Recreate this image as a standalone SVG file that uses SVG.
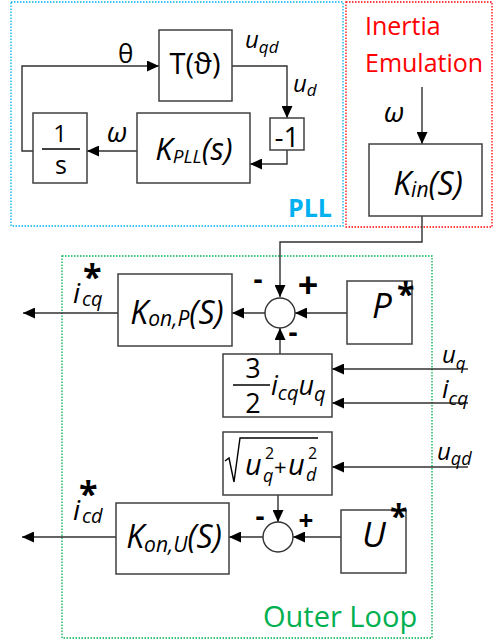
<svg xmlns="http://www.w3.org/2000/svg" width="493" height="644" viewBox="0 0 493 644">
<style>
.bx{fill:#fff;stroke:#404040;stroke-width:1.5}
.ln{fill:none;stroke:#303030;stroke-width:1.4}
.t{font-family:"Open Sans","Liberation Sans",sans-serif;fill:#000}
.it{font-family:"Open Sans","Liberation Sans",sans-serif;font-style:italic;fill:#000}
.st{font-family:"Open Sans","Liberation Sans",sans-serif;font-weight:bold;fill:#000}
.frame{fill:none;stroke-width:1.3;stroke-dasharray:1.5 1.5}
</style>
<defs>
<marker id="ah" markerUnits="userSpaceOnUse" markerWidth="12" markerHeight="11" refX="12" refY="5.5" orient="auto">
<path d="M0,0 L12,5.5 L0,11 z" fill="#000"/>
</marker>
</defs>
<rect width="493" height="644" fill="#fff"/>

<g id="frames">
<rect class="frame" x="11" y="2" width="332" height="224" stroke="#00b0f0"/>
<rect class="frame" x="346" y="2" width="146" height="225" stroke="#ff0000"/>
<rect class="frame" x="62" y="256" width="370" height="382" stroke="#00b050"/>
<text x="288" y="217" font-family="Open Sans, Liberation Sans, sans-serif" font-weight="bold" font-size="25" fill="#00b0f0">PLL</text>
<text x="365" y="35" font-family="Open Sans, Liberation Sans, sans-serif" font-size="25" fill="#ff0000">Inertia</text>
<text x="365" y="72" font-family="Open Sans, Liberation Sans, sans-serif" font-size="25" fill="#ff0000">Emulation</text>
<text x="263" y="627" font-family="Open Sans, Liberation Sans, sans-serif" font-size="29" fill="#00b050">Outer Loop</text>
</g>

<g id="connectors">
<polyline class="ln" points="33,151 22,151 22,66 159,66" marker-end="url(#ah)"/>
<polyline class="ln" points="232,66 287,66 287,118" marker-end="url(#ah)"/>
<polyline class="ln" points="287,150 287,164 250,164" marker-end="url(#ah)"/>
<line class="ln" x1="137" y1="151" x2="87" y2="151" marker-end="url(#ah)"/>
<line class="ln" x1="422" y1="87" x2="422" y2="144" marker-end="url(#ah)"/>
<polyline class="ln" points="422,216 422,242 280,242 280,297" marker-end="url(#ah)"/>
<line class="ln" x1="347" y1="313" x2="295" y2="313" marker-end="url(#ah)"/>
<line class="ln" x1="265" y1="313" x2="232" y2="313" marker-end="url(#ah)"/>
<line class="ln" x1="118" y1="313" x2="23" y2="313" marker-end="url(#ah)"/>
<line class="ln" x1="280" y1="354" x2="280" y2="328" marker-end="url(#ah)"/>
<line class="ln" x1="468" y1="369" x2="332" y2="369" marker-end="url(#ah)"/>
<line class="ln" x1="468" y1="403" x2="332" y2="403" marker-end="url(#ah)"/>
<line class="ln" x1="468" y1="467" x2="332" y2="467" marker-end="url(#ah)"/>
<line class="ln" x1="278" y1="495" x2="278" y2="522" marker-end="url(#ah)"/>
<line class="ln" x1="341" y1="537" x2="293" y2="537" marker-end="url(#ah)"/>
<line class="ln" x1="263" y1="537" x2="229" y2="537" marker-end="url(#ah)"/>
<line class="ln" x1="116" y1="537" x2="22" y2="537" marker-end="url(#ah)"/>
</g>

<g id="labels">
<text class="t" x="118" y="63" font-size="26">θ</text>
<text class="it" x="245" y="48" font-size="24">u<tspan font-size="17" dy="5">qd</tspan></text>
<text class="it" x="293" y="92" font-size="24">u<tspan font-size="17" dy="4">d</tspan></text>
<text class="it" x="117" y="142" font-size="28" text-anchor="middle">ω</text>
<text class="it" x="394" y="122" font-size="28" text-anchor="middle">ω</text>
<text class="it" x="73" y="303" font-size="28">i<tspan class="st" x="83" y="289" font-size="34" font-style="normal">*</tspan><tspan x="82" y="306" font-size="20">cq</tspan></text>
<text class="it" x="73" y="520" font-size="28">i<tspan class="st" x="79" y="506" font-size="34" font-style="normal">*</tspan><tspan x="82" y="523" font-size="20">cd</tspan></text>
<text class="it" x="442" y="363" font-size="24">u<tspan font-size="17" dy="6">q</tspan></text>
<text class="it" x="442" y="398" font-size="26">i<tspan font-size="19" dy="7">cq</tspan></text>
<text class="it" x="437" y="460" font-size="24">u<tspan font-size="18" dy="5">qd</tspan></text>
</g>

<g id="node-T">
<rect class="bx" x="159" y="30" width="73" height="71"/>
<text class="t" x="195" y="74" font-size="29" text-anchor="middle">T(ϑ)</text>
</g>
<g id="node-neg1">
<rect class="bx" x="270" y="118" width="34" height="32"/>
<text class="t" x="287" y="147" font-size="28" text-anchor="middle">-1</text>
</g>
<g id="node-KPLL">
<rect class="bx" x="137" y="113" width="113" height="70"/>
<text class="it" x="194" y="160" font-size="31" text-anchor="middle">K<tspan font-size="19" dy="3">PLL</tspan><tspan dy="-3">(s)</tspan></text>
</g>
<g id="node-integrator">
<rect class="bx" x="33" y="113" width="54" height="70"/>
<text class="t" x="60" y="142" font-size="24" text-anchor="middle">1</text>
<line x1="42" y1="149" x2="80" y2="149" stroke="#000" stroke-width="1.5"/>
<text class="t" x="61" y="174" font-size="25" text-anchor="middle">s</text>
</g>
<g id="node-Kin">
<rect class="bx" x="369" y="144" width="113" height="72"/>
<text class="it" x="428" y="195" font-size="32" text-anchor="middle">K<tspan font-size="21" dy="2">in</tspan><tspan dy="-2">(S)</tspan></text>
</g>
<g id="node-KonP">
<rect class="bx" x="118" y="274" width="114" height="72"/>
<text class="it" x="177" y="324" font-size="32" text-anchor="middle">K<tspan font-size="21" dy="2">on,P</tspan><tspan dy="-2">(S)</tspan></text>
</g>
<g id="node-sum1">
<circle cx="280" cy="313" r="15" fill="#fff" stroke="#303030" stroke-width="1.4"/>
<text class="st" x="258" y="289" font-size="28" text-anchor="middle">-</text>
<text class="st" x="308" y="298" font-size="36" text-anchor="middle">+</text>
<text class="st" x="293" y="342" font-size="28" text-anchor="middle">-</text>
</g>
<g id="node-Pstar">
<rect class="bx" x="347" y="281" width="65" height="63"/>
<text class="it" x="372" y="318" font-size="35">P</text>
<text class="st" x="397" y="306" font-size="32">*</text>
</g>
<g id="node-power">
<rect class="bx" x="223" y="354" width="109" height="63"/>
<text class="t" x="253" y="378" font-size="27" text-anchor="middle">3</text>
<line x1="233" y1="385" x2="270" y2="385" stroke="#000" stroke-width="1.5"/>
<text class="t" x="253" y="413" font-size="27" text-anchor="middle">2</text>
<text class="it" x="271" y="395" font-size="27">i<tspan font-size="20" dy="5">cq</tspan><tspan font-size="27" dy="-5">u</tspan><tspan font-size="20" dy="6">q</tspan></text>
</g>
<g id="node-sqrt">
<rect class="bx" x="223" y="432" width="109" height="63"/>
<polyline points="225,461 229,458 234,482 240,438 318,438" fill="none" stroke="#000" stroke-width="1.4"/>
<text class="it" x="245" y="475" font-size="29">u</text>
<text class="t" x="265" y="459" font-size="16">2</text>
<text class="it" x="263" y="482" font-size="18">q</text>
<text class="t" x="274" y="475" font-size="22">+</text>
<text class="it" x="288" y="475" font-size="29">u</text>
<text class="t" x="308" y="459" font-size="16">2</text>
<text class="it" x="306" y="481" font-size="18">d</text>
</g>
<g id="node-sum2">
<circle cx="278" cy="537" r="15" fill="#fff" stroke="#303030" stroke-width="1.4"/>
<text class="st" x="260" y="526" font-size="28" text-anchor="middle">-</text>
<text class="st" x="306" y="530" font-size="26" text-anchor="middle">+</text>
</g>
<g id="node-KonU">
<rect class="bx" x="116" y="503" width="113" height="71"/>
<text class="it" x="174" y="548" font-size="32" text-anchor="middle">K<tspan font-size="21" dy="4">on,U</tspan><tspan dy="-4">(S)</tspan></text>
</g>
<g id="node-Ustar">
<rect class="bx" x="341" y="510" width="65" height="63"/>
<text class="it" x="362" y="547" font-size="35">U</text>
<text class="st" x="390" y="528" font-size="32">*</text>
</g>
</svg>
